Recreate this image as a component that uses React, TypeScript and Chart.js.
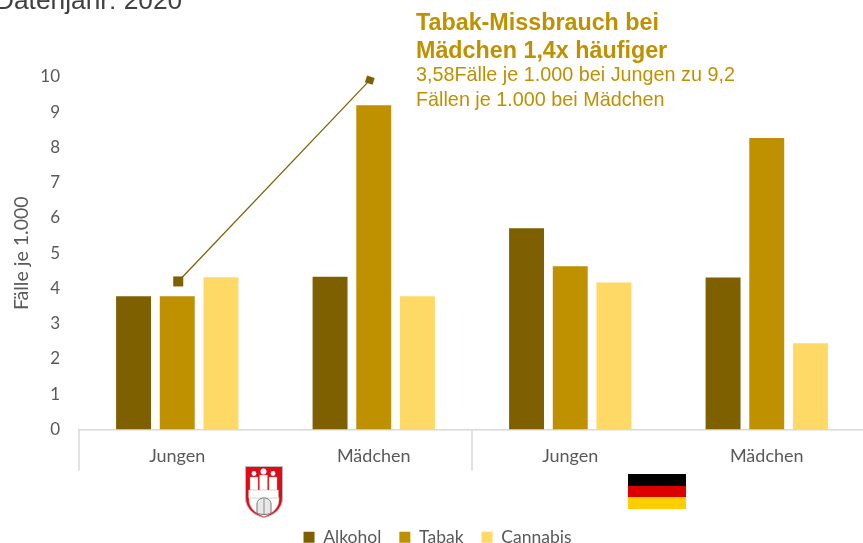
import React, { useEffect, useRef } from "react";
import { Chart, registerables } from "chart.js";

Chart.register(...registerables);

const categories = ["Jungen", "Mädchen", "Jungen", "Mädchen"];
const alkohol = [3.78, 4.33, 5.71, 4.31];
const tabak = [3.78, 9.2, 4.63, 8.27];
const cannabis = [4.32, 3.78, 4.17, 2.45];
const seriesNames = ["Alkohol", "Tabak", "Cannabis"];
const seriesColors = ["#7F6000", "#BF9000", "#FFD966"];
const calloutFrom = { x: 0.005, y: 4.2 };
const calloutTo = { x: 0.98, y: 9.91 };
const groupDividers = [-0.5, 1.5];

const labelFont = "Lato, Carlito, sans-serif";
const gray = "#595959";

const overlay = {
  id: "overlay",
  afterDatasetsDraw(chart: any) {
    const { ctx, scales } = chart;
    const { x, y } = scales;
    const ax = x.getPixelForValue(calloutFrom.x);
    const ay = y.getPixelForValue(calloutFrom.y);
    const bx = x.getPixelForValue(calloutTo.x);
    const by = y.getPixelForValue(calloutTo.y);
    ctx.save();
    ctx.strokeStyle = "#7F6000";
    ctx.fillStyle = "#7F6000";
    ctx.lineWidth = 1.25;
    ctx.beginPath();
    ctx.moveTo(ax, ay);
    ctx.lineTo(bx, by);
    ctx.stroke();
    ctx.fillRect(ax - 5, ay - 5, 10, 10);
    ctx.translate(bx, by);
    ctx.rotate((18 * Math.PI) / 180);
    ctx.fillRect(-4, -3.5, 8, 7);
    ctx.restore();

    ctx.save();
    ctx.strokeStyle = "#D9D9D9";
    ctx.lineWidth = 1.5;
    const base = y.getPixelForValue(0);
    groupDividers.forEach((d) => {
      const px = Math.round(x.getPixelForValue(d));
      ctx.beginPath();
      ctx.moveTo(px, base);
      ctx.lineTo(px, base + 41);
      ctx.stroke();
    });
    ctx.restore();
  },
};

const Crest = () => (
  <svg
    width={38}
    height={52}
    viewBox="0 0 38 52"
    style={{ position: "absolute", left: 245, top: 466 }}
  >
    <path d="M0.5 0.5H37.5V32C37.5 43 28 50 19 51.5C10 50 0.5 43 0.5 32Z" fill="#E30A17" stroke="#bbb" />
    <path d="M4 31H34V34C34 42 27 48 19 50.5C11 48 4 42 4 34Z" fill="#fff" stroke="#aaa" strokeWidth={0.5} />
    <rect x={5} y={11} width={8} height={14} fill="#fff" stroke="#999" strokeWidth={0.4} />
    <rect x={14.5} y={9} width={8} height={16} fill="#fff" stroke="#999" strokeWidth={0.4} />
    <rect x={24} y={11} width={8} height={14} fill="#fff" stroke="#999" strokeWidth={0.4} />
    <circle cx={9} cy={7.5} r={2.4} fill="#fff" />
    <circle cx={18.5} cy={5.5} r={3} fill="#fff" />
    <circle cx={28} cy={7.5} r={2.4} fill="#fff" />
    <rect x={3.5} y={24} width={30} height={8} fill="#fff" stroke="#999" strokeWidth={0.4} />
    <path d="M12 47V38C12 30 26 30 26 38V47C22 49 16 49 12 47Z" fill="#e8e8e8" stroke="#666" strokeWidth={0.9} />
    <path d="M19 33V48" stroke="#666" strokeWidth={0.7} />
  </svg>
);

const Flag = () => (
  <svg
    width={58}
    height={35}
    viewBox="0 0 58 35"
    style={{ position: "absolute", left: 628, top: 474 }}
  >
    <rect width={58} height={12} y={0} fill="#000000" />
    <rect width={58} height={11} y={12} fill="#DD0000" />
    <rect width={58} height={12} y={23} fill="#FFCE00" />
  </svg>
);

const textBase: React.CSSProperties = {
  position: "absolute",
  fontFamily: "'Liberation Sans', Arial, sans-serif",
  whiteSpace: "nowrap",
  margin: 0,
};

export default function App() {
  const ref = useRef<HTMLCanvasElement>(null);
  useEffect(() => {
    const chart = new Chart(ref.current!, {
      type: "bar",
      data: {
        labels: categories,
        datasets: [alkohol, tabak, cannabis].map((data, i) => ({
          label: seriesNames[i],
          data,
          backgroundColor: seriesColors[i],
          categoryPercentage: 0.667,
          barPercentage: 0.8,
        })),
      },
      options: {
        responsive: false,
        animation: false,
        layout: { padding: { left: 10, right: 0, top: 77, bottom: -13 } },
        plugins: {
          tooltip: { enabled: false },
          title: { display: false },
          legend: {
            position: "bottom",
            labels: {
              boxWidth: 11,
              boxHeight: 11,
              padding: 18,
              color: gray,
              font: { family: labelFont, size: 17.5 },
            },
          },
        },
        scales: {
          x: {
            grid: { display: false, drawTicks: false },
            border: { color: "#D9D9D9", width: 1.5 },
            ticks: { color: gray, padding: 16, font: { family: labelFont, size: 18 }, maxRotation: 0 },
            afterFit: (s: any) => { s.height = 81; },
          },
          y: {
            min: 0,
            max: 10,
            grid: { display: false, drawTicks: false },
            border: { display: false },
            ticks: { stepSize: 1, color: gray, padding: 19, font: { family: labelFont, size: 17 } },
            title: {
              display: true,
              text: "Fälle je 1.000",
              color: gray,
              font: { family: labelFont, size: 19.5 },
              padding: 0,
            },
            afterFit: (s: any) => { s.width = 69; },
          },
        },
      },
      plugins: [overlay],
    } as any);
    return () => chart.destroy();
  }, []);
  return (
    <div style={{ position: "absolute", left: 0, top: 0, width: 863, height: 543, overflow: "hidden", background: "#fff" }}>
      <canvas ref={ref} width={865} height={543} style={{ display: "block" }} />
      <div style={{ ...textBase, left: -5, top: -15, fontSize: 26.3, color: "#404040" }}>Datenjahr: 2020</div>
      <div style={{ ...textBase, left: 416, top: 7.5, fontSize: 23.3, lineHeight: "28px", fontWeight: 700, color: "#BF9000" }}>
        Tabak-Missbrauch bei<br />Mädchen 1,4x häufiger
      </div>
      <div style={{ ...textBase, left: 416, top: 62, fontSize: 19.8, lineHeight: "24.5px", color: "#BF9000" }}>
        3,58Fälle je 1.000 bei Jungen zu 9,2<br />Fällen je 1.000 bei Mädchen
      </div>
      <Crest />
      <Flag />
    </div>
  );
}
